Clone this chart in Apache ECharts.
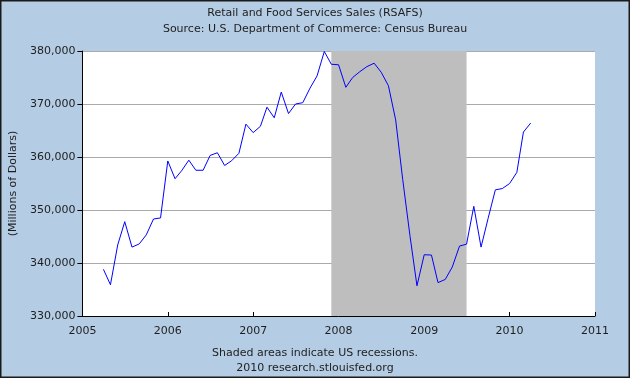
<!DOCTYPE html>
<html>
<head>
<meta charset="utf-8">
<script src="https://cdn.jsdelivr.net/npm/echarts@6/dist/echarts.min.js"></script>
<style>
html,body{margin:0;padding:0;background:#B4CCE4;}
#c{width:630px;height:378px;}
</style>
</head>
<body>
<div id="c"></div>
<script>
// Monthly dates (first of month), Apr 2005 .. Apr 2010
const months = [
 '2005-04-01','2005-05-01','2005-06-01','2005-07-01','2005-08-01','2005-09-01','2005-10-01','2005-11-01','2005-12-01',
 '2006-01-01','2006-02-01','2006-03-01','2006-04-01','2006-05-01','2006-06-01','2006-07-01','2006-08-01','2006-09-01','2006-10-01','2006-11-01','2006-12-01',
 '2007-01-01','2007-02-01','2007-03-01','2007-04-01','2007-05-01','2007-06-01','2007-07-01','2007-08-01','2007-09-01','2007-10-01','2007-11-01','2007-12-01',
 '2008-01-01','2008-02-01','2008-03-01','2008-04-01','2008-05-01','2008-06-01','2008-07-01','2008-08-01','2008-09-01','2008-10-01','2008-11-01','2008-12-01',
 '2009-01-01','2009-02-01','2009-03-01','2009-04-01','2009-05-01','2009-06-01','2009-07-01','2009-08-01','2009-09-01','2009-10-01','2009-11-01','2009-12-01',
 '2010-01-01','2010-02-01','2010-03-01','2010-04-01'
];
// Retail and Food Services Sales, millions of dollars
const rsafs = [
 338800,335900,343400,347800,343000,343600,345300,348300,348500,
 359250,355900,357400,359400,357500,357500,360300,360800,358400,359300,360700,366200,
 364600,365800,369400,367400,372250,368200,370000,370250,373000,375300,379900,377500,
 377400,373150,375000,376100,377050,377700,376000,373450,367000,355800,345200,335700,
 341560,341500,336300,336900,339250,343200,343550,350700,343000,348400,353800,354050,
 355000,357100,364700,366400
];
const recessions = [['2007-12-01','2009-07-01']];
const yTicks = [330000,340000,350000,360000,370000,380000];
const xYears = ['2005','2006','2007','2008','2009','2010','2011'];

const chart = echarts.init(document.getElementById('c'), null, {renderer:'canvas'});
const font = 'DejaVu Sans';
const txt = '#1e1e1e';
chart.setOption({
  backgroundColor:'#B4CCE4',
  animation:false,
  textStyle:{fontFamily:font},
  title:[
    {text:'Retail and Food Services Sales (RSAFS)', left:'center', top:3,
     textStyle:{fontFamily:font,fontSize:11,fontWeight:'normal',color:txt}},
    {text:'Source: U.S. Department of Commerce: Census Bureau', left:'center', top:19,
     textStyle:{fontFamily:font,fontSize:11,fontWeight:'normal',color:txt}},
    {text:'Shaded areas indicate US recessions.', left:'center', top:343,
     textStyle:{fontFamily:font,fontSize:11,fontWeight:'normal',color:txt}},
    {text:'2010 research.stlouisfed.org', left:'center', top:358,
     textStyle:{fontFamily:font,fontSize:11,fontWeight:'normal',color:txt}}
  ],
  graphic:[{type:'rect', shape:{x:0.75,y:0.75,width:628.5,height:376.5}, style:{fill:null,stroke:'#1a1a1a',lineWidth:1.5}, silent:true, z:100}],
  grid:{left:81, top:51, width:514, height:265, show:true, backgroundColor:'#ffffff', borderWidth:0},
  xAxis:{
    type:'time',
    min:xYears[0]+'-01-01', max:xYears[xYears.length-1]+'-01-01',
    splitNumber:6,
    minInterval:365*24*3600*1000,
    axisLine:{show:true,lineStyle:{color:'#000',width:1}},
    axisTick:{show:true,inside:true,length:4,lineStyle:{color:'#000'}},
    axisLabel:{fontFamily:font,fontSize:11,color:txt,margin:10,formatter:'{yyyy}',showMinLabel:true,showMaxLabel:true},
    splitLine:{show:false},
    minorTick:{show:false}
  },
  yAxis:{
    type:'value', min:yTicks[0], max:yTicks[yTicks.length-1], interval:10000,
    name:'(Millions of Dollars)', nameLocation:'middle', nameGap:63,
    nameTextStyle:{fontFamily:font,fontSize:11,color:txt},
    axisLine:{show:true,lineStyle:{color:'#000',width:1}},
    axisTick:{show:true,inside:false,length:5,lineStyle:{color:'#000'}},
    axisLabel:{fontFamily:font,fontSize:11,color:txt,margin:7,
      formatter:v=>v.toString().replace(/\B(?=(\d{3})+(?!\d))/g,',')},
    splitLine:{show:true,lineStyle:{color:'#aaaaaa',width:1}}
  },
  series:[{
    type:'line',
    data:months.map((m,i)=>[m,rsafs[i]]),
    showSymbol:false,
    lineStyle:{color:'#0000ff',width:1},
    itemStyle:{color:'#0000ff'},
    z:5,
    markArea:{silent:true, itemStyle:{color:'#bebebe',opacity:1},
      data:recessions.map(r=>[{xAxis:r[0]},{xAxis:r[1]}])}
  }]
});
</script>
</body>
</html>
